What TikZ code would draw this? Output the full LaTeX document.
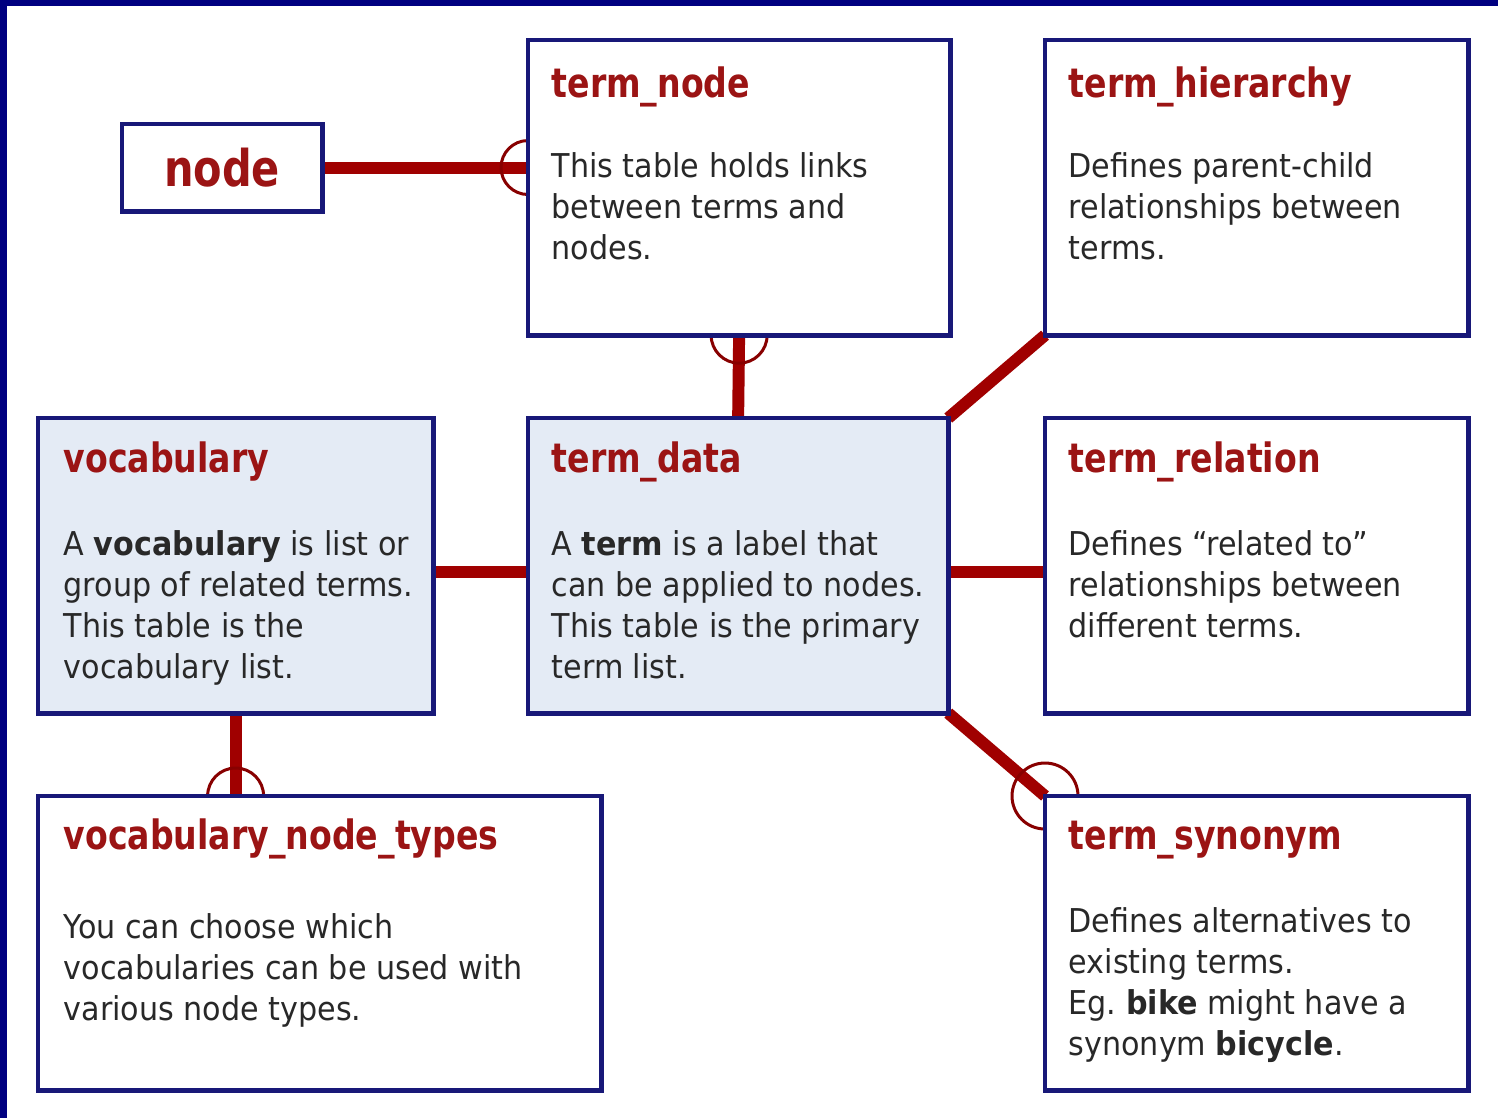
\documentclass[tikz,border=0pt]{standalone}
\usepackage{fontspec}
\setmainfont{DejaVu Sans}[FakeStretch=0.92]
\newfontfamily\headfont{DejaVu Sans}[FakeStretch=0.82]
\usetikzlibrary{
  calc,
  positioning,
  backgrounds
}
\definecolor{tblnavy}{RGB}{24,24,120}
\definecolor{framenavy}{RGB}{0,0,128}
\definecolor{tblfill}{RGB}{228,235,245}
\definecolor{tblred}{RGB}{160,0,0}
\definecolor{tbltitle}{RGB}{155,20,20}
\definecolor{tbltext}{RGB}{40,40,40}
\frenchspacing

\begin{document}
\begin{tikzpicture}[x=0.01cm,y=0.01cm,
  tbl/.style={draw=tblnavy,line width=1.4pt,fill=white,anchor=north west,inner sep=0pt,outer sep=0pt},
  maintbl/.style={tbl,fill=tblfill},
  ttl/.style={anchor=base west,inner sep=0pt,text=tbltitle,font=\headfont\bfseries\fontsize{11.5}{13}\selectfont},
  body/.style={anchor=north west,inner sep=0pt,align=left,text=tbltext,font=\fontsize{9.33}{11.6}\selectfont},
  link/.style={draw=tblred,line width=3.4pt},
  ring/.style={draw=tblred!85!black,line width=0.85pt}
]
  \useasboundingbox (0,0) rectangle (1498,-1118);

  \node[tbl,minimum width=2.00cm,minimum height=0.87cm,text=tbltitle,
        font=\headfont\bfseries\fontsize{14.4}{16}\selectfont] (nd) at (122,-124) {node};
  \node[tbl,minimum width=4.22cm,minimum height=2.95cm] (tn) at (528,-40) {};
  \node[tbl,minimum width=4.23cm,minimum height=2.95cm] (th) at (1045,-40) {};
  \node[maintbl,minimum width=3.95cm,minimum height=2.95cm] (voc) at (38,-418) {};
  \node[maintbl,minimum width=4.20cm,minimum height=2.95cm] (td) at (528,-418) {};
  \node[tbl,minimum width=4.23cm,minimum height=2.95cm] (tr) at (1045,-418) {};
  \node[tbl,minimum width=5.63cm,minimum height=2.94cm] (vnt) at (38,-796) {};
  \node[tbl,minimum width=4.23cm,minimum height=2.94cm] (ts) at (1045,-796) {};

  \node[ttl] (tnT) at ([shift={(23,-57)}]tn.north west) {term\_node};
  \node[body] (tnB) at ([shift={(23,-112)}]tn.north west)
    {This table holds links\\between terms and\\nodes.};
  \node[ttl] (thT) at ([shift={(23,-57)}]th.north west) {term\_hierarchy};
  \node[body] (thB) at ([shift={(23,-112)}]th.north west)
    {Defines parent-child\\relationships between\\terms.};
  \node[ttl] (vocT) at ([shift={(25,-54)}]voc.north west) {vocabulary};
  \node[body] (vocB) at ([shift={(25,-112)}]voc.north west)
    {A \textbf{vocabulary} is list or\\group of related terms.\\This table is the\\vocabulary list.};
  \node[ttl] (tdT) at ([shift={(23,-54)}]td.north west) {term\_data};
  \node[body] (tdB) at ([shift={(23,-112)}]td.north west)
    {A \textbf{term} is a label that\\can be applied to nodes.\\This table is the primary\\term list.};
  \node[ttl] (trT) at ([shift={(23,-54)}]tr.north west) {term\_relation};
  \node[body] (trB) at ([shift={(23,-112)}]tr.north west)
    {Defines “related to”\\relationships between\\different terms.};
  \node[ttl] (vntT) at ([shift={(25,-53)}]vnt.north west) {vocabulary\_node\_types};
  \node[body] (vntB) at ([shift={(25,-117)}]vnt.north west)
    {You can choose which\\vocabularies can be used with\\various node types.};
  \node[ttl] (tsT) at ([shift={(23,-53)}]ts.north west) {term\_synonym};
  \node[body] (tsB) at ([shift={(23,-111)}]ts.north west)
    {Defines alternatives to\\existing terms.\\Eg. \textbf{bike} might have a\\synonym \textbf{bicycle}.};

  \begin{scope}[on background layer]
    \fill[white] (0,0) rectangle (1498,-1118);
    \draw[link] (nd.east) -- (nd.east -| tn.west);
    \draw[ring] (nd.east -| tn.west) ++(90:27) arc[start angle=90,end angle=270,radius=27];
    \draw[link] (tn.south) -- (td.north);
    \draw[ring] (tn.south) ++(180:28) arc[start angle=180,end angle=360,radius=28];
    \draw[link] (td.north east) -- (th.south west);
    \draw[link] ([yshift=-0.065cm]voc.east) -- ([yshift=-0.065cm]td.west);
    \draw[link] ([yshift=-0.065cm]td.east) -- ([yshift=-0.065cm]tr.west);
    \draw[link] (td.south east) -- (ts.north west);
    \draw[ring] (ts.north west) ++(0:33) arc[start angle=0,end angle=270,radius=33];
    \draw[link] (voc.south) -- (voc.south |- vnt.north);
    \draw[ring] (voc.south |- vnt.north) ++(0:28) arc[start angle=0,end angle=180,radius=28];
  \end{scope}

  \fill[framenavy] (0,0) rectangle (1498,-6);
  \fill[framenavy] (0,0) rectangle (7,-1118);
\end{tikzpicture}
\end{document}
